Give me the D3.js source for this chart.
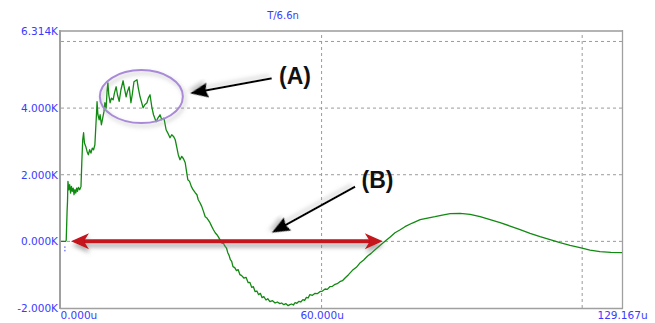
<!DOCTYPE html>
<html>
<head>
<meta charset="utf-8">
<script src="https://cdn.jsdelivr.net/npm/d3@7"></script>
<style>
  html, body { margin: 0; padding: 0; background: #fff; }
  svg { display: block; }
  .tick text { font-family: "DejaVu Sans", sans-serif; font-size: 10.5px; fill: #3a3aff; }
</style>
</head>
<body>
<svg id="chart" width="655" height="323"></svg>
<script>
// ---- data (time in microseconds, value in volts) ----
const time = [0,1.1,1.2,1.4,1.5,1.6,1.8,2.0,2.2,2.4,2.6,2.8,3.0,3.2,3.4,3.6,3.8,4.0,4.3,4.6,4.8,5.0,5.2,5.4,5.7,6.0,6.3,6.6,6.9,7.2,7.5,7.8,8.0,8.2,8.3,8.5,8.8,9.0,9.3,9.6,9.9,10.1,10.4,10.6,10.8,11.0,11.3,11.6,12.0,12.3,12.7,13.0,13.4,13.8,14.3,14.6,15.0,15.3,15.7,16.1,16.4,16.8,17.5,17.8,18.2,18.5,18.9,19.3,19.8,20.1,20.5,20.9,21.3,21.9,22.3,22.8,23.2,23.7,24.2,24.6,25.1,25.5,25.9,26.3,26.7,27.0,27.4,27.8,28.2,28.6,28.9,29.2,29.6,30.0,30.4,30.9,31.3,31.6,32.0,32.4,32.8,33.2,33.6,34.0,34.3,34.7,35.1,35.5,35.9,36.3,36.8,37.1,37.3,37.6,37.8,38.1,38.4,38.7,39.0,39.3,39.6,40.0,40.4,40.8,41.2,41.6,42.1,42.6,43.1,43.5,43.9,44.3,44.7,45.1,45.5,45.9,46.3,46.7,47.2,47.6,48.1,48.7,49.3,49.8,50.4,50.8,51.3,51.8,52.3,52.7,53.1,53.5,53.9,54.3,54.8,55.2,55.7,56.1,56.5,56.9,57.3,57.9,58.5,59.0,59.6,60.2,60.8,61.3,61.9,62.5,63.1,63.6,64.2,64.8,65.4,66.2,67.1,68.0,68.9,69.7,70.6,71.4,72.3,73.5,74.6,75.8,76.9,78.1,79.2,80.9,82.7,84.4,86.1,87.8,89.6,91.9,94.2,96.5,98.8,101.1,103.4,105.7,108.0,110.3,112.6,114.9,117.2,119.5,121.8,124.1,126.6,129.167];
const volts = [0,0,30,900,1200,1800,1550,1700,1450,1650,1500,1600,1400,1550,1450,1600,1500,1620,1550,1650,2400,3050,3260,2950,2850,2700,2600,2750,2650,2800,2750,2900,3400,3900,4190,3800,3650,3800,3500,3700,3900,4160,4000,4500,4760,4400,4160,4300,4250,4450,4640,4400,4200,4550,4820,4600,4340,4500,4640,4160,4400,4790,4850,4600,4340,4200,4010,4100,4160,4300,4400,4040,3800,3590,3700,3800,3650,3700,3350,3250,3110,3200,3150,3050,2800,2600,2450,2550,2480,2360,2100,1850,1800,1650,1550,1460,1400,1250,1160,1050,900,740,700,620,560,450,350,260,200,120,0,-60,-20,-110,-150,-200,-340,-420,-550,-600,-760,-790,-880,-850,-1000,-1030,-1100,-1080,-1240,-1230,-1380,-1360,-1510,-1490,-1600,-1560,-1690,-1660,-1760,-1720,-1810,-1780,-1850,-1820,-1870,-1850,-1900,-1870,-1930,-1900,-1880,-1910,-1840,-1860,-1800,-1820,-1750,-1770,-1680,-1700,-1600,-1620,-1560,-1570,-1510,-1490,-1430,-1440,-1360,-1350,-1290,-1270,-1210,-1180,-1100,-1000,-870,-780,-640,-560,-440,-360,-250,-120,0,130,260,350,440,550,650,700,740,790,830,840,810,740,650,560,460,350,240,140,50,-40,-120,-190,-260,-310,-330,-340];

const yTicks = [-2000, 0, 2000, 4000, 6314];
const yGrid = [0, 2000, 4000, 6000];
const xTicks = [0, 60, 129.167];
const xGrid = [60, 120];
const title = "T/6.6n";

// annotations in data coordinates
const labels = [
  { text: "(A)", t: 50.2, v: 4730 },
  { text: "(B)", t: 69.2, v: 1600 }
];
const pointers = [
  { t0: 48.5, v0: 4893, t1: 29.7, v1: 4443 },
  { t0: 67.7, v0: 1641, t1: 48.5, v1: 261 }
];
const ellipseA = { t: 18.5, v: 4347, rt: 9.56, rv: 795 };
const spanB = { t0: 2.3, t1: 74.1, v: 0 };

// ---- drawing ----
const svg = d3.select("#chart");
const x = d3.scaleLinear().domain([0, 129.167]).range([61, 622]);
const y = d3.scaleLinear().domain([-2000, 6314]).range([308, 31]);

const defs = svg.append("defs");
const sh = defs.append("filter").attr("id", "shadow").attr("x", "-30%").attr("y", "-60%").attr("width", "160%").attr("height", "260%");
sh.append("feDropShadow").attr("dx", 1).attr("dy", 4).attr("stdDeviation", 2.2).attr("flood-color", "#777").attr("flood-opacity", 0.6);
const sh2 = defs.append("filter").attr("id", "shadow2").attr("x", "-30%").attr("y", "-30%").attr("width", "160%").attr("height", "160%");
sh2.append("feDropShadow").attr("dx", 2).attr("dy", 3).attr("stdDeviation", 2).attr("flood-color", "#888").attr("flood-opacity", 0.5);

// grid
svg.append("g").selectAll("line").data(yGrid).join("line")
  .attr("x1", x.range()[0]).attr("x2", x.range()[1])
  .attr("y1", d => y(d)).attr("y2", d => y(d))
  .attr("stroke", "#9a9a9a").attr("stroke-width", 1).attr("stroke-dasharray", "3,3");
svg.append("g").selectAll("line").data(xGrid).join("line")
  .attr("x1", d => x(d)).attr("x2", d => x(d))
  .attr("y1", y.range()[0]).attr("y2", y.range()[1])
  .attr("stroke", "#9a9a9a").attr("stroke-width", 1).attr("stroke-dasharray", "3,3");

// frame
svg.append("line").attr("x1", 60).attr("x2", 623).attr("y1", 31).attr("y2", 31).attr("stroke", "#b4b4b4").attr("stroke-width", 2);
svg.append("line").attr("x1", 60).attr("x2", 60).attr("y1", 30).attr("y2", 309).attr("stroke", "#a0a0a0").attr("stroke-width", 2);
svg.append("line").attr("x1", 622.5).attr("x2", 622.5).attr("y1", 30).attr("y2", 309).attr("stroke", "#a0a0a0").attr("stroke-width", 1.3);
svg.append("line").attr("x1", 60).attr("x2", 623).attr("y1", 308.5).attr("y2", 308.5).attr("stroke", "#a0a0a0").attr("stroke-width", 1.3);

// axes
const fmtK = d => (d / 1000).toFixed(3) + "K";
const gy = svg.append("g").attr("transform", "translate(60,0)")
  .call(d3.axisLeft(y).tickValues(yTicks).tickFormat(fmtK).tickSize(0).tickPadding(2));
gy.select(".domain").remove();
const gx = svg.append("g").attr("transform", "translate(0,308)")
  .call(d3.axisBottom(x).tickValues(xTicks).tickFormat(d => d.toFixed(3) + "u").tickSize(0).tickPadding(4));
gx.select(".domain").remove();
gx.selectAll(".tick text").filter(d => d === 0).attr("text-anchor", "start").attr("dx", -1);

// title
svg.append("text").attr("x", 283).attr("y", 19).attr("text-anchor", "middle")
  .style("font-family", "DejaVu Sans, sans-serif").style("font-size", "10px").attr("fill", "#3a3aff").text(title);

// cursor marker
svg.append("line").attr("x1", x(0.9)).attr("x2", x(0.9)).attr("y1", y(-150)).attr("y2", y(-330))
  .attr("stroke", "#3a3aff").attr("stroke-width", 1).attr("stroke-dasharray", "1.5,2");

// waveform
const pts = time.map((t, i) => [t, volts[i]]);
svg.append("path").datum(pts)
  .attr("fill", "none").attr("stroke", "#118a11").attr("stroke-width", 1.3).attr("stroke-linejoin", "round")
  .attr("d", d3.line().x(d => x(d[0])).y(d => y(d[1])));

// ellipse A
svg.append("ellipse")
  .attr("cx", x(ellipseA.t)).attr("cy", y(ellipseA.v))
  .attr("rx", x(ellipseA.rt) - x(0)).attr("ry", y(0) - y(ellipseA.rv))
  .attr("fill", "none").attr("stroke", "#a98ad8").attr("stroke-width", 2).attr("filter", "url(#shadow2)");

// red double arrow
const rg = svg.append("g").attr("filter", "url(#shadow)");
const rx0 = x(spanB.t0), rx1 = x(spanB.t1), ry = y(spanB.v);
rg.append("line").attr("x1", rx0 + 10).attr("x2", rx1 - 10).attr("y1", ry).attr("y2", ry)
  .attr("stroke", "#c4121c").attr("stroke-width", 4);
const headR = "M0,0 L-18,-8 L-13,0 L-18,8 Z";
rg.append("path").attr("d", headR).attr("fill", "#c4121c").attr("transform", `translate(${rx1},${ry})`);
rg.append("path").attr("d", headR).attr("fill", "#c4121c").attr("transform", `translate(${rx0},${ry}) rotate(180)`);

// black pointers
pointers.forEach(p => {
  const X0 = x(p.t0), Y0 = y(p.v0), X1 = x(p.t1), Y1 = y(p.v1);
  const ang = Math.atan2(Y1 - Y0, X1 - X0) * 180 / Math.PI;
  const len = Math.hypot(X1 - X0, Y1 - Y0);
  const g = svg.append("g").attr("transform", `translate(${X0},${Y0}) rotate(${ang})`).attr("filter", "url(#shadow2)");
  g.append("line").attr("x1", 0).attr("y1", 0).attr("x2", len - 12).attr("y2", 0).attr("stroke", "#000").attr("stroke-width", 2);
  g.append("path").attr("d", `M${len},0 L${len - 18},-7.5 L${len - 16},0 L${len - 18},7.5 Z`).attr("fill", "#000");
});

// labels
svg.append("g").selectAll("text").data(labels).join("text")
  .attr("x", d => x(d.t)).attr("y", d => y(d.v))
  .style("font-family", "Liberation Sans, Arial, sans-serif").style("font-weight", "bold").style("font-size", "23px")
  .attr("fill", "#111").text(d => d.text);
</script>
</body>
</html>
